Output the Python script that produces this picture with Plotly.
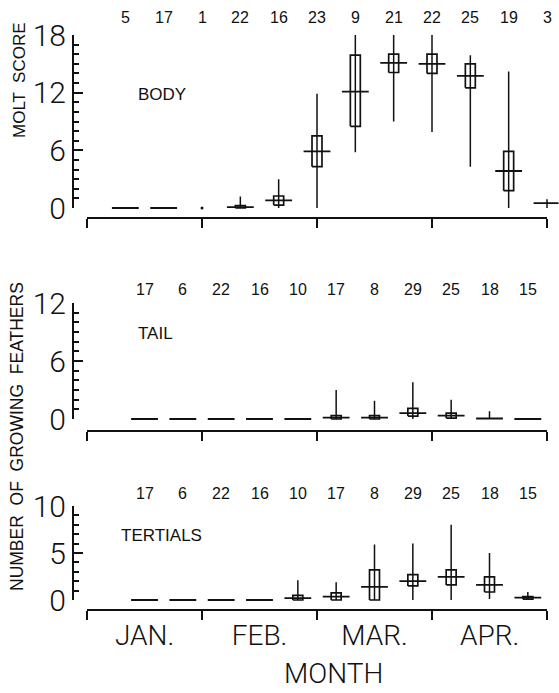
import plotly.graph_objects as go

W, H = 559, 693

# ---------------- data ----------------
months = ["JAN.", "FEB.", "MAR.", "APR."]
month_edges = [0, 3, 6, 9, 12]
month_mid = [1.5, 4.5, 7.5, 10.5]

# sampling periods, in month units from 1 January
body_x = [1, 2, 3, 4, 5, 6, 7, 8, 9, 10, 11, 12]
body_n = [5, 17, 1, 22, 16, 23, 9, 21, 22, 25, 19, 3]
body_mean = [0, 0, 0, 0.1, 0.8, 5.9, 12.1, 15.1, 15.0, 13.75, 3.85, 0.5]
body_lo = [0, 0, 0, 0, 0.3, 4.3, 8.5, 14.1, 14.0, 12.5, 1.8, 0.5]
body_hi = [0, 0, 0, 0.25, 1.25, 7.5, 15.9, 16.0, 16.0, 15.0, 5.9, 0.5]
body_min = [0, 0, 0, 0, 0, 0, 5.8, 9.0, 7.9, 4.3, 0, 0]
body_max = [0, 0, 0, 1.2, 3.0, 11.9, 18, 18, 18, 15.9, 14.2, 0.9]

feather_x = [1.5, 2.5, 3.5, 4.5, 5.5, 6.5, 7.5, 8.5, 9.5, 10.5, 11.5]
tail_n = [17, 6, 22, 16, 10, 17, 8, 29, 25, 18, 15]
tail_mean = [0, 0, 0, 0, 0, 0.15, 0.15, 0.6, 0.35, 0.05, 0]
tail_lo = [0, 0, 0, 0, 0, 0, 0, 0.3, 0.1, 0, 0]
tail_hi = [0, 0, 0, 0, 0, 0.35, 0.35, 1.1, 0.6, 0, 0]
tail_min = [0, 0, 0, 0, 0, 0, 0, 0, 0, 0, 0]
tail_max = [0, 0, 0, 0, 0, 3.0, 1.9, 3.8, 2.0, 0.8, 0]

ter_n = [17, 6, 22, 16, 10, 17, 8, 29, 25, 18, 15]
ter_mean = [0, 0, 0, 0, 0.2, 0.35, 1.4, 2.0, 2.45, 1.6, 0.25]
ter_lo = [0, 0, 0, 0, 0, 0, 0, 1.5, 1.6, 0.85, 0.1]
ter_hi = [0, 0, 0, 0, 0.5, 0.75, 3.2, 2.7, 3.2, 2.45, 0.35]
ter_min = [0, 0, 0, 0, 0, 0, 0, 0, 0, 0.1, 0.1]
ter_max = [0, 0, 0, 0, 2.1, 1.9, 5.9, 6.0, 8.0, 5.0, 0.85]

# ---------------- geometry / style ----------------
INK = "#111111"
FONT = "Liberation Sans, Arial, sans-serif"
THIN = "Roboto, Liberation Sans, sans-serif"
X0_PX, X12_PX = 87, 547
PXU = (X12_PX - X0_PX) / 12.0
YAXIS_PX = 73
XR = (-0.5, 12.3)
BOX_HW = 0.13
MEAN_HW = 0.35

panels = [
    dict(label="BODY", lab_xy=(162, 94), ymax=18, major=[0, 6, 12, 18], y0=208, ytop=35,
         xline=218, ny=17.5, x=body_x, n=body_n, mean=body_mean, lo=body_lo, hi=body_hi,
         mn=body_min, mx=body_max),
    dict(label="TAIL", lab_xy=(155, 333), ymax=12, major=[0, 6, 12], y0=419, ytop=303,
         xline=431, ny=289, x=feather_x, n=tail_n, mean=tail_mean, lo=tail_lo, hi=tail_hi,
         mn=tail_min, mx=tail_max),
    dict(label="TERTIALS", lab_xy=(161, 535), ymax=10, major=[0, 5, 10], y0=600, ytop=506,
         xline=610, ny=493, x=feather_x, n=ter_n, mean=ter_mean, lo=ter_lo, hi=ter_hi,
         mn=ter_min, mx=ter_max),
]


def fx(px):
    return px / W


def fy(px):
    return 1 - px / H


fig = go.Figure()
layout = dict(width=W, height=H, margin=dict(l=0, r=0, t=0, b=0, pad=0, autoexpand=False),
              paper_bgcolor="white", plot_bgcolor="rgba(0,0,0,0)",
              showlegend=False, font=dict(family=FONT, color=INK))
annotations = []

for k, p in enumerate(panels, start=1):
    d = k + 3  # data axes index
    upy = (p["y0"] - p["ytop"]) / p["ymax"]
    bottom = (k == 3)

    # display axes
    layout[f"xaxis{k}"] = dict(
        domain=[fx(X0_PX), fx(X12_PX)], range=[0, 12], anchor="free", position=fy(p["xline"]),
        automargin=False,
        showline=True, linewidth=2, linecolor=INK, showgrid=False, zeroline=False,
        tickmode="array", tickvals=month_mid, ticktext=months, ticks="outside", ticklen=0,
        showticklabels=bottom, tickfont=dict(size=28, family=THIN, weight=300, color=INK),
        ticklabelstandoff=0,
        minor=dict(tickmode="array", tickvals=month_edges, ticks="outside", ticklen=9,
                   tickwidth=1.5, tickcolor=INK, showgrid=False),
    )
    layout[f"yaxis{k}"] = dict(
        domain=[fy(p["y0"]), fy(p["ytop"])], range=[0, p["ymax"]], anchor="free",
        position=fx(YAXIS_PX), automargin=False, showline=True, linewidth=2, linecolor=INK,
        showgrid=False, zeroline=False, tickmode="array", tickvals=p["major"],
        ticks="inside", ticklen=9, tickwidth=1.5, tickcolor=INK,
        tickfont=dict(size=30, family=THIN, weight=300, color=INK),
        minor=dict(dtick=1, tick0=0, ticks="inside", ticklen=5, tickwidth=1.5,
                   tickcolor=INK, showgrid=False),
    )
    fig.add_trace(go.Scatter(x=[None], y=[None], xaxis=f"x{k}", yaxis=f"y{k}",
                             hoverinfo="skip"))

    # data axes (same scale, a little wider so marks at the edges are not clipped)
    layout[f"xaxis{d}"] = dict(
        domain=[fx(X0_PX + XR[0] * PXU), fx(X0_PX + XR[1] * PXU)], range=list(XR),
        visible=False, anchor=f"y{d}", automargin=False)
    layout[f"yaxis{d}"] = dict(
        domain=[fy(p["y0"] + upy), fy(p["ytop"] - upy)], range=[-1, p["ymax"] + 1],
        visible=False, anchor=f"x{d}", automargin=False)

    bx, by, wx, wy, mx_, my_, sx, sy = [], [], [], [], [], [], [], []
    for x, n, m, lo, hi, a, b in zip(p["x"], p["n"], p["mean"], p["lo"], p["hi"],
                                     p["mn"], p["mx"]):
        if n == 1:
            sx.append(x)
            sy.append(m)
            continue
        if hi > lo:
            bx += [x - BOX_HW, x + BOX_HW, x + BOX_HW, x - BOX_HW, x - BOX_HW, None]
            by += [lo, lo, hi, hi, lo, None]
        if b > a:
            wx += [x, x, None]
            wy += [a, b, None]
        mx_ += [x - MEAN_HW, x + MEAN_HW, None]
        my_ += [m, m, None]

    common = dict(xaxis=f"x{d}", yaxis=f"y{d}", hoverinfo="skip", mode="lines")
    fig.add_trace(go.Scatter(x=wx, y=wy, line=dict(color=INK, width=1.5), **common))
    fig.add_trace(go.Scatter(x=bx, y=by, line=dict(color=INK, width=1.7), **common))
    fig.add_trace(go.Scatter(x=mx_, y=my_, line=dict(color=INK, width=1.8), **common))
    if sx:
        fig.add_trace(go.Scatter(x=sx, y=sy, mode="markers", xaxis=f"x{d}", yaxis=f"y{d}",
                                 marker=dict(color=INK, size=3), hoverinfo="skip"))

    # sample sizes
    for x, n in zip(p["x"], p["n"]):
        annotations.append(dict(x=x, y=fy(p["ny"]), xref=f"x{d}", yref="paper",
                                text=str(n), showarrow=False, xanchor="center",
                                yanchor="middle", font=dict(size=16, color=INK)))
    # panel label
    annotations.append(dict(x=fx(p["lab_xy"][0]), y=fy(p["lab_xy"][1]), xref="paper",
                            yref="paper", text=p["label"], showarrow=False,
                            xanchor="center", yanchor="middle",
                            font=dict(size=17, color=INK)))

annotations.append(dict(x=fx(19), y=fy(80), xref="paper", yref="paper",
                        text="MOLT  SCORE", textangle=-90, showarrow=False,
                        xanchor="center", yanchor="middle", font=dict(size=17, color=INK)))
annotations.append(dict(x=fx(17), y=fy(437), xref="paper", yref="paper",
                        text="NUMBER  OF  GROWING  FEATHERS", textangle=-90, showarrow=False,
                        xanchor="center", yanchor="middle", font=dict(size=17.5, color=INK)))
annotations.append(dict(x=fx(333), y=fy(673), xref="paper", yref="paper",
                        text="MONTH", showarrow=False, xanchor="center", yanchor="middle",
                        font=dict(size=28, family=THIN, weight=300, color=INK)))

layout["annotations"] = annotations
fig.update_layout(**layout)
fig.write_html("out.html")
